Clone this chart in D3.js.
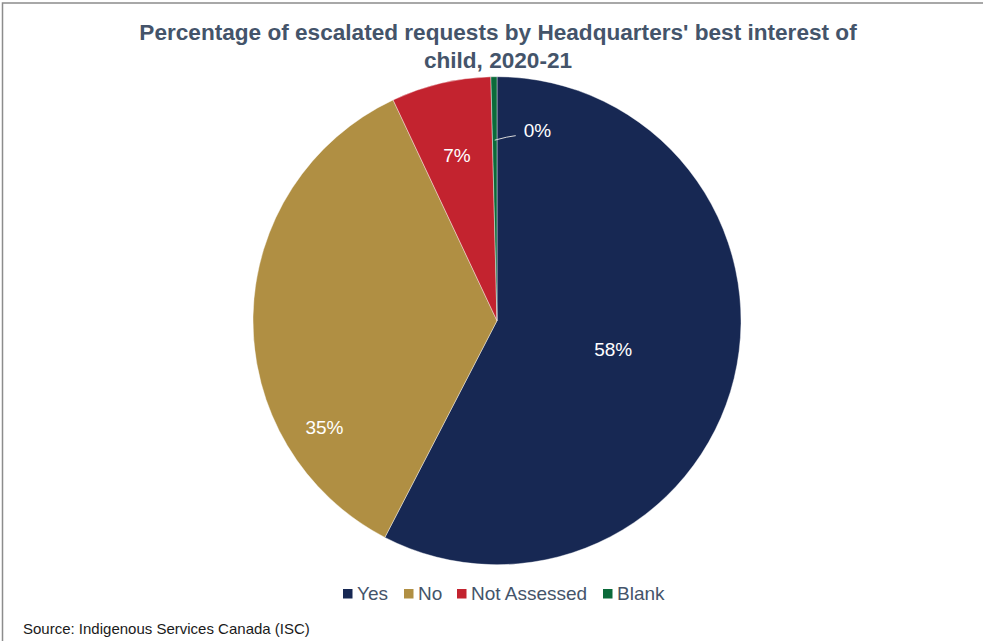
<!DOCTYPE html>
<html>
<head>
<meta charset="utf-8">
<script src="https://cdn.jsdelivr.net/npm/d3@7"></script>
<style>
  html, body { margin: 0; padding: 0; background: #fff; }
  svg { display: block; }
</style>
</head>
<body>
<svg id="chart" width="983" height="641"></svg>
<script>
// ---- data ----
const categories = ["Yes", "No", "Not Assessed", "Blank"];
const values = [57.6, 35.4, 6.6, 0.4];
const valueLabels = ["58%", "35%", "7%", "0%"];
const colors = ["#172853", "#B08F43", "#C3232F", "#0B6A3A"];
const titleLines = ["Percentage of escalated requests by Headquarters' best interest of", "child, 2020-21"];
const sourceText = "Source: Indigenous Services Canada (ISC)";

// label placement (fraction along slice, fraction of radius) — Excel best fit look
const labelPlace = [
  { t: 0.5, r: 0.49 },
  { t: 0.244, r: 0.83 },
  { t: 0.49, r: 0.70 },
  { t: 0.5, r: 0.74, leader: true }
];

const svg = d3.select("#chart");
const W = 983, H = 641;
const cx = 497, cy = 320.7, R = 244;
const font = "'Liberation Sans', Arial, sans-serif";

// frame
svg.append("rect")
  .attr("x", 2.5).attr("y", 3).attr("width", W + 10).attr("height", H + 10)
  .attr("fill", "none").attr("stroke", "#8c8c8c").attr("stroke-width", 1.5);

// title
svg.append("g").selectAll("text").data(titleLines).join("text")
  .attr("x", 498).attr("y", (d, i) => 40 + i * 28)
  .attr("text-anchor", "middle")
  .attr("font-family", font).attr("font-weight", "bold")
  .attr("font-size", 22.6).attr("fill", "#44546A")
  .text(d => d);

// pie
const data = categories.map((c, i) => ({ cat: c, value: values[i], label: valueLabels[i], color: colors[i], place: labelPlace[i] }));
const pie = d3.pie().value(d => d.value).sort(null);
const arcs = pie(data);
const arc = d3.arc().innerRadius(0).outerRadius(R);

const g = svg.append("g").attr("transform", `translate(${cx},${cy})`);
g.selectAll("path").data(arcs).join("path")
  .attr("d", arc)
  .attr("fill", d => d.data.color)
  .attr("stroke", "#fff").attr("stroke-width", 0.4);

function pos(a, r) {
  return [Math.sin(a) * r, -Math.cos(a) * r];
}

arcs.forEach(d => {
  const p = d.data.place;
  const ang = d.startAngle + (d.endAngle - d.startAngle) * p.t;
  const [x, y] = pos(ang, p.r * R);
  if (p.leader) {
    const line = d3.line().curve(d3.curveLinear);
    g.append("path")
      .attr("d", line([[x, y], [x + 12, y - 3], [x + 21, y - 4.5]]))
      .attr("fill", "none").attr("stroke", "#d9d9d9").attr("stroke-width", 1);
    g.append("text")
      .attr("x", x + 29).attr("y", y - 3)
      .attr("font-family", font).attr("font-size", 19).attr("fill", "#fff")
      .text(d.data.label);
  } else {
    g.append("text")
      .attr("x", x).attr("y", y + 7)
      .attr("text-anchor", "middle")
      .attr("font-family", font).attr("font-size", 19).attr("fill", "#fff")
      .text(d.data.label);
  }
});

// legend
const legendX = [343, 404, 457, 603];
const legend = svg.append("g");
data.forEach((d, i) => {
  legend.append("rect")
    .attr("x", legendX[i]).attr("y", 589).attr("width", 9.5).attr("height", 9.5)
    .attr("fill", d.color);
  legend.append("text")
    .attr("x", legendX[i] + 14).attr("y", 599.5)
    .attr("font-family", font).attr("font-size", 19).attr("fill", "#44546A")
    .text(d.cat);
});

// source
svg.append("text")
  .attr("x", 23).attr("y", 633.5)
  .attr("font-family", font).attr("font-size", 15).attr("fill", "#1a1a1a")
  .text(sourceText);
</script>
</body>
</html>
